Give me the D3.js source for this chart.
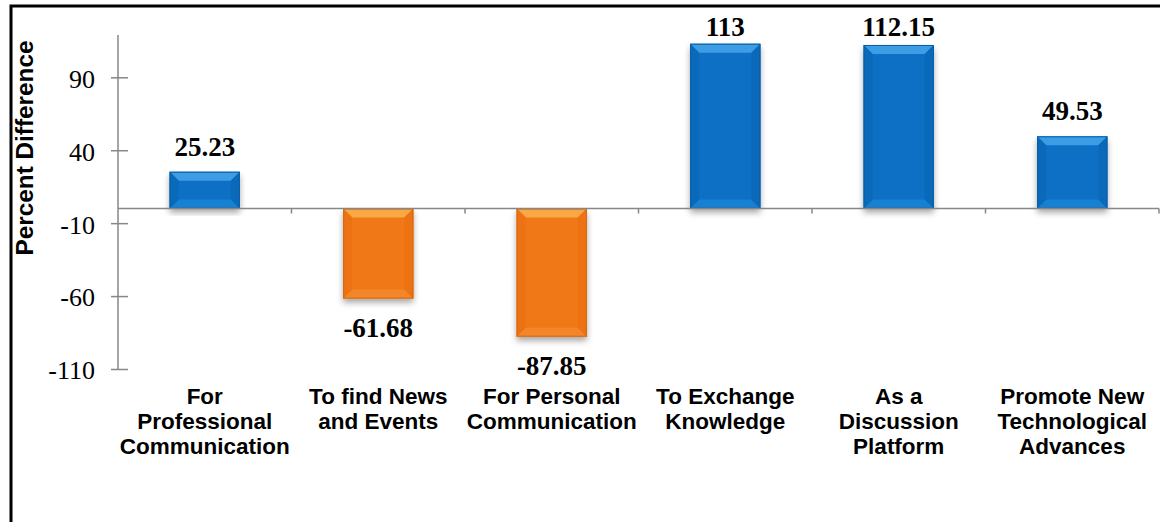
<!DOCTYPE html>
<html>
<head>
<meta charset="utf-8">
<script src="https://cdn.jsdelivr.net/npm/d3@7"></script>
<style>
  body { margin: 0; background: #fff; }
  svg { display: block; }
</style>
</head>
<body>
<svg id="chart" width="1160" height="522"></svg>
<script>
const categories = [
  ["For", "Professional", "Communication"],
  ["To find News", "and Events"],
  ["For Personal", "Communication"],
  ["To Exchange", "Knowledge"],
  ["As a", "Discussion", "Platform"],
  ["Promote New", "Technological", "Advances"]
];
const values = [25.23, -61.68, -87.85, 113, 112.15, 49.53];
const yTicks = [90, 40, -10, -60, -110];
const yTitle = "Percent Difference";

const svg = d3.select("#chart");
const serif = "'Liberation Serif', 'Times New Roman', serif";
const sans = "'Liberation Sans', Arial, sans-serif";
const axisColor = "#878787";

const x = d3.scaleBand()
  .domain(d3.range(categories.length))
  .range([118, 1159])
  .padding(0);

const y = d3.scaleLinear()
  .domain([-110, 119])
  .range([369, 35]);

const barW = x.bandwidth() * 0.405;

// outer frame (runs off the right and bottom edges like the original)
svg.append("rect")
  .attr("x", 11).attr("y", 6)
  .attr("width", 1180).attr("height", 560)
  .attr("fill", "#fff")
  .attr("stroke", "#000")
  .attr("stroke-width", 3);

const defs = svg.append("defs");
const shadow = defs.append("filter").attr("id", "shadow")
  .attr("x", "-20%").attr("y", "-20%").attr("width", "140%").attr("height", "140%");
shadow.append("feDropShadow")
  .attr("dx", 0).attr("dy", 4).attr("stdDeviation", 3)
  .attr("flood-color", "#000").attr("flood-opacity", 0.35);

const palettes = {
  pos: { base: "#0870c4", top: "#3d9de4", bottom: "#1680d2", side: "#0a69b8", edge: "#0a5ea6" },
  neg: { base: "#f07818", top: "#f9a844", bottom: "#f4862a", side: "#ec7214", edge: "#d8680e" }
};

// axes
const yAxis = svg.append("g")
  .attr("transform", `translate(${x.range()[0]},0)`)
  .call(d3.axisLeft(y).tickValues(yTicks).tickSize(7).tickPadding(0).tickFormat(d => String(d)));
yAxis.select(".domain").remove();
yAxis.append("line")
  .attr("y1", y(119)).attr("y2", y(-110))
  .attr("stroke", axisColor).attr("stroke-width", 1.5);
yAxis.selectAll(".tick line")
  .attr("x1", 10).attr("x2", -7)
  .attr("stroke", axisColor).attr("stroke-width", 1.5);
yAxis.selectAll(".tick text")
  .attr("x", -23)
  .attr("dy", "0.38em")
  .attr("fill", "#000")
  .style("font-family", serif)
  .style("font-size", "26px");

const bars = svg.append("g");

values.forEach((v, i) => {
  const p = v >= 0 ? palettes.pos : palettes.neg;
  const x0 = x(i) + (x.bandwidth() - barW) / 2;
  const x1 = x0 + barW;
  const y0 = Math.min(y(v), y(0));
  const y1 = Math.max(y(v), y(0));
  const b = Math.min(9, (y1 - y0) / 4);
  const g = bars.append("g");

  g.append("rect")
    .attr("x", x0).attr("y", y0)
    .attr("width", barW).attr("height", y1 - y0)
    .attr("fill", p.base)
    .attr("filter", "url(#shadow)");
  // bevel faces
  g.append("polygon")
    .attr("points", [[x0, y0], [x1, y0], [x1 - b, y0 + b], [x0 + b, y0 + b]].join(" "))
    .attr("fill", p.top);
  g.append("polygon")
    .attr("points", [[x0, y1], [x1, y1], [x1 - b, y1 - b], [x0 + b, y1 - b]].join(" "))
    .attr("fill", p.bottom);
  g.append("polygon")
    .attr("points", [[x0, y0], [x0 + b, y0 + b], [x0 + b, y1 - b], [x0, y1]].join(" "))
    .attr("fill", p.side);
  g.append("polygon")
    .attr("points", [[x1, y0], [x1 - b, y0 + b], [x1 - b, y1 - b], [x1, y1]].join(" "))
    .attr("fill", p.side);
  g.append("rect")
    .attr("x", x0 + 0.5).attr("y", y0 + 0.5)
    .attr("width", barW - 1).attr("height", y1 - y0 - 1)
    .attr("fill", "none")
    .attr("stroke", p.edge).attr("stroke-width", 1);
});

// x axis on zero line
svg.append("line")
  .attr("x1", x.range()[0]).attr("x2", x.range()[1])
  .attr("y1", y(0)).attr("y2", y(0))
  .attr("stroke", axisColor).attr("stroke-width", 1.5);
svg.append("g").selectAll("line")
  .data(d3.range(1, categories.length + 1))
  .join("line")
  .attr("x1", d => x.range()[0] + d * x.step())
  .attr("x2", d => x.range()[0] + d * x.step())
  .attr("y1", y(0)).attr("y2", y(0) + 5)
  .attr("stroke", axisColor).attr("stroke-width", 1.5);

// value labels
svg.append("g").selectAll("text")
  .data(values)
  .join("text")
  .attr("x", (d, i) => x(i) + x.bandwidth() / 2)
  .attr("y", d => d >= 0 ? Math.max(y(d) - 16, 36) : y(d) + 38)
  .attr("text-anchor", "middle")
  .style("font-family", serif)
  .style("font-size", "27px")
  .style("font-weight", "bold")
  .text(d => d);

// category labels
const catLabels = svg.append("g").selectAll("text")
  .data(categories)
  .join("text")
  .attr("x", (d, i) => x(i) + x.bandwidth() / 2)
  .attr("y", 404)
  .attr("text-anchor", "middle")
  .style("font-family", sans)
  .style("font-size", "22.5px")
  .style("font-weight", "bold");
catLabels.selectAll("tspan")
  .data(d => d)
  .join("tspan")
  .attr("x", function () { return d3.select(this.parentNode).attr("x"); })
  .attr("dy", (d, j) => j === 0 ? 0 : 25)
  .text(d => d);

// y title
svg.append("text")
  .attr("transform", "translate(33,148) rotate(-90)")
  .attr("text-anchor", "middle")
  .attr("textLength", 215)
  .attr("lengthAdjust", "spacingAndGlyphs")
  .style("font-family", sans)
  .style("font-size", "23px")
  .style("font-weight", "bold")
  .text(yTitle);
</script>
</body>
</html>
